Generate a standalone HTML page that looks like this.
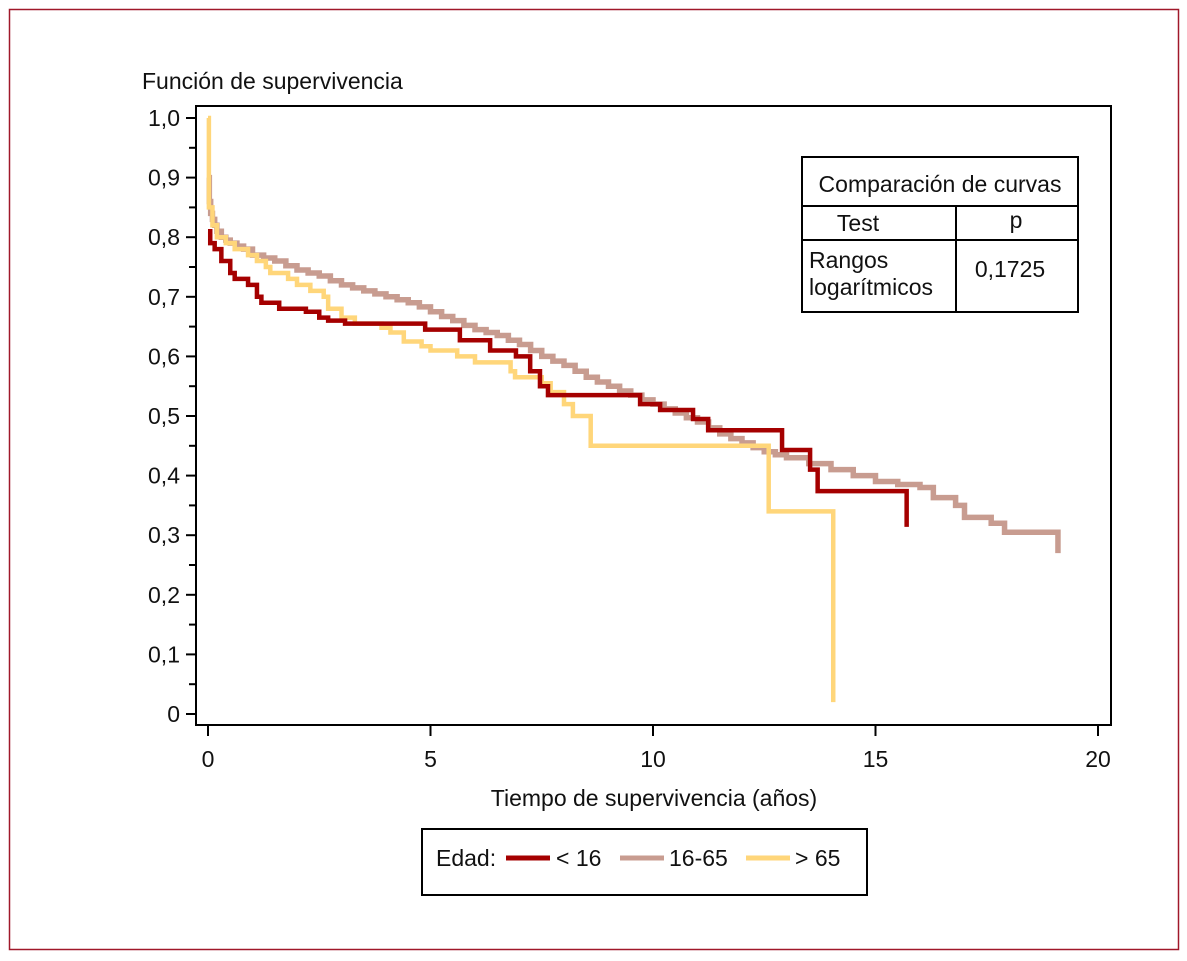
<!DOCTYPE html>
<html><head><meta charset="utf-8"><style>
html,body{margin:0;padding:0;background:#fff}
svg{display:block}
text{font-family:"Liberation Sans Narrow","Liberation Sans",sans-serif;fill:#111}
</style></head><body>
<svg id="chart" width="1187" height="961" viewBox="0 0 1187 961">
<rect x="9.5" y="9.5" width="1169" height="940" fill="none" stroke="#a0182a" stroke-width="1.5"/>
<text x="142" y="89" font-size="23">Función de supervivencia</text>
<rect x="196" y="106" width="915" height="619" fill="none" stroke="#000" stroke-width="2"/>
<g id="axes"></g>
<g id="series"></g>
<text x="654" y="806" font-size="23" text-anchor="middle">Tiempo de supervivencia (años)</text>
<g>
<rect x="802" y="157" width="276" height="155" fill="#fff" stroke="#000" stroke-width="2"/>
<line x1="802" y1="206" x2="1078" y2="206" stroke="#000" stroke-width="2"/>
<line x1="802" y1="240" x2="1078" y2="240" stroke="#000" stroke-width="2"/>
<line x1="956" y1="206" x2="956" y2="312" stroke="#000" stroke-width="2"/>
<text x="940" y="192" font-size="23" text-anchor="middle">Comparación de curvas</text>
<text x="858" y="231" font-size="23" text-anchor="middle">Test</text>
<text x="1016" y="228" font-size="23" text-anchor="middle">p</text>
<text x="809" y="268" font-size="23">Rangos</text>
<text x="809" y="295" font-size="23">logarítmicos</text>
<text x="1010" y="277" font-size="23" text-anchor="middle">0,1725</text>
</g>
<g>
<rect x="422" y="829" width="445" height="66" fill="#fff" stroke="#000" stroke-width="2"/>
<text x="436" y="866" font-size="23">Edad:</text>
<line x1="506" y1="858" x2="550" y2="858" stroke="#a50000" stroke-width="5"/>
<text x="556" y="866" font-size="23">&lt; 16</text>
<line x1="620" y1="858" x2="664" y2="858" stroke="#c89c90" stroke-width="5"/>
<text x="669" y="866" font-size="23">16-65</text>
<line x1="746" y1="858" x2="790" y2="858" stroke="#ffd67a" stroke-width="5"/>
<text x="795" y="866" font-size="23">&gt; 65</text>
</g>
</svg>
<script>
const xTicks=[0,5,10,15,20];
const yTicks=[0,0.1,0.2,0.3,0.4,0.5,0.6,0.7,0.8,0.9,1.0];
const yTickLabels=["0","0,1","0,2","0,3","0,4","0,5","0,6","0,7","0,8","0,9","1,0"];
const redT=[0,0.05,0.15,0.3,0.5,0.6,0.9,1.1,1.2,1.6,2.2,2.5,2.7,3.08,4.88,5.66,6.34,6.92,7.24,7.46,7.64,9.71,10.16,10.9,11.24,12.9,13.53,13.7,15.7];
const redS=[0.81,0.79,0.78,0.76,0.74,0.73,0.72,0.70,0.69,0.68,0.675,0.665,0.66,0.655,0.645,0.627,0.61,0.60,0.575,0.55,0.535,0.52,0.51,0.495,0.476,0.443,0.41,0.374,0.314];
const pinkT=[0,0.03,0.06,0.1,0.15,0.2,0.3,0.4,0.5,0.65,0.8,1.0,1.25,1.5,1.75,2.0,2.25,2.5,2.75,3.0,3.25,3.5,3.75,4.0,4.25,4.5,4.75,5.0,5.25,5.5,5.75,6.0,6.25,6.5,6.75,7.0,7.25,7.5,7.75,8.0,8.25,8.5,8.75,9.0,9.25,9.5,9.75,10.0,10.25,10.5,10.75,11.0,11.25,11.5,11.75,12.0,12.25,12.5,12.75,13.0,13.5,14.0,14.5,15.0,15.5,16.0,16.3,16.8,17.0,17.6,17.9,19.1];
const pinkS=[0.9,0.86,0.84,0.83,0.82,0.81,0.80,0.795,0.79,0.785,0.78,0.77,0.765,0.76,0.752,0.745,0.74,0.735,0.727,0.72,0.715,0.71,0.705,0.70,0.695,0.69,0.683,0.675,0.667,0.66,0.652,0.645,0.64,0.635,0.627,0.62,0.61,0.60,0.592,0.585,0.575,0.565,0.557,0.55,0.542,0.535,0.527,0.52,0.512,0.505,0.497,0.49,0.48,0.47,0.462,0.455,0.447,0.44,0.435,0.43,0.42,0.41,0.40,0.39,0.385,0.38,0.363,0.35,0.33,0.32,0.305,0.27];
const yelT=[0,0.02,0.1,0.2,0.4,0.6,0.9,1.1,1.3,1.4,1.8,2.0,2.3,2.6,2.7,3.0,3.3,3.9,4.1,4.4,4.8,5.0,5.6,6.0,6.8,6.9,7.5,7.7,8.0,8.2,8.6,12.6,14.05];
const yelS=[1.0,0.85,0.82,0.80,0.79,0.78,0.77,0.76,0.75,0.74,0.73,0.72,0.71,0.70,0.68,0.665,0.655,0.648,0.64,0.625,0.617,0.61,0.60,0.59,0.575,0.565,0.555,0.54,0.52,0.50,0.45,0.34,0.02];
const X=t=>208+44.5*t, Y=s=>714-596*s;
const NS="http://www.w3.org/2000/svg";
const ax=document.getElementById('axes'), sg=document.getElementById('series');
function mk(tag,attrs,parent){const e=document.createElementNS(NS,tag);for(const k in attrs)e.setAttribute(k,attrs[k]);parent.appendChild(e);return e;}
xTicks.forEach(v=>{
 const l=mk('line',{x1:X(v),x2:X(v),y1:725,y2:736,stroke:'#000','stroke-width':2},ax);
 
 
 const t=mk('text',{x:X(v),y:767,'font-size':23,'text-anchor':'middle'},ax);t.textContent=v;
 
 
});
yTicks.forEach((v,i)=>{
 const l=mk('line',{x1:186,x2:196,y1:Y(v),y2:Y(v),stroke:'#000','stroke-width':2},ax);
 
 
 if(i<yTicks.length-1){const m=mk('line',{x1:189,x2:196,y1:Y(v+0.05),y2:Y(v+0.05),stroke:'#000','stroke-width':2},ax);
 
 }
 const t=mk('text',{x:180,y:Y(v)+8,'font-size':23,'text-anchor':'end'},ax);t.textContent=yTickLabels[i];
 
 
});
function step(T,S,color,name,w){
 let d='M'+X(T[0])+' '+Y(S[0]);
 for(let i=1;i<T.length;i++){d+=' H'+X(T[i])+' V'+Y(S[i]);}
 const p=mk('path',{d:d,fill:'none',stroke:color,'stroke-width':w},sg);
 
 
}
step(pinkT,pinkS,'#c89c90','curve-16-65',5.5);
step(yelT,yelS,'#ffd67a','curve-over-65',4.5);
step(redT,redS,'#a50000','curve-under-16',4.5);
</script>
</body></html>
